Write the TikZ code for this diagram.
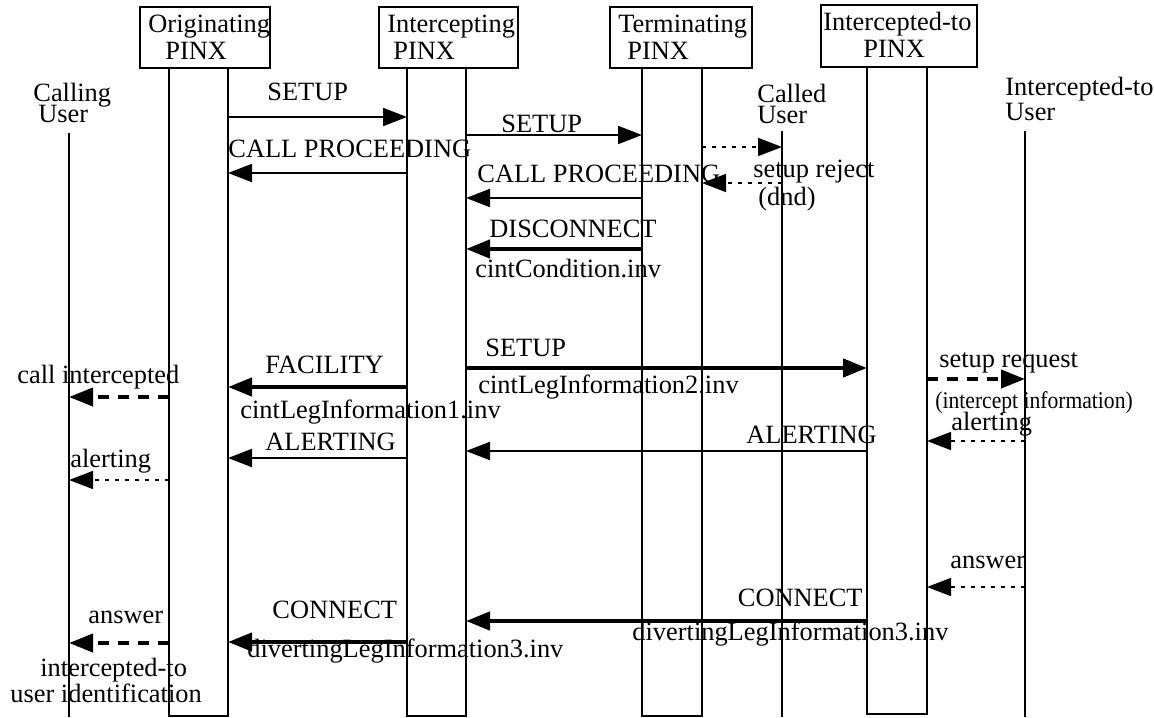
\documentclass[tikz,border=0pt]{standalone}
\usepackage{fontspec}
\setmainfont{Liberation Serif}
\usetikzlibrary{arrows.meta,fit}

\begin{document}
\begin{tikzpicture}[x=0.5pt,y=-0.5pt,
    font=\fontsize{13.2}{14}\selectfont,
    txt/.style={inner sep=0pt,anchor=base west},
    hdr/.style={draw,line width=1pt,inner sep=0pt},
    life/.style={line width=1pt},
    msg/.style={line width=1pt,-{Triangle[length=12pt,width=9pt]}},
    boldmsg/.style={line width=2.2pt,-{Triangle[length=12pt,width=9pt]}},
    dashmsg/.style={line width=2pt,dash pattern=on 5.5pt off 4.5pt,-{Triangle[length=12pt,width=9pt]}},
    dotmsg/.style={line width=0.8pt,dash pattern=on 2pt off 3pt,-{Triangle[length=12pt,width=9pt]}}]%
     \useasboundingbox (0,0) rectangle (1154,717);

     % header boxes
     \node[hdr,fit={(140,7) (270,68)}] (orig) {};
     \node[txt] (origA) at (148,33) {Originating};
     \node[txt] (origB) at (165,60) {PINX};
     \node[hdr,fit={(379,7) (518,68)}] (icpt) {};
     \node[txt] (icptA) at (387,33) {Intercepting};
     \node[txt] (icptB) at (393,60) {PINX};
     \node[hdr,fit={(610,7) (752,68)}] (term) {};
     \node[txt] (termA) at (618,33) {Terminating};
     \node[txt] (termB) at (627,60) {PINX};
     \node[hdr,fit={(821,5) (977,67)}] (ito) {};
     \node[txt] (itoA) at (823,31) {Intercepted-to};
     \node[txt] (itoB) at (863,58) {PINX};

     % users
     \node[txt] (cuA) at (33,101) {Calling};
     \node[txt] (cuB) at (38,122) {User};
     \node[txt] (duA) at (757,103) {Called};
     \node[txt] (duB) at (757,123) {User};
     \node[txt] (xuA) at (1005,96) {Intercepted-to};
     \node[txt] (xuB) at (1005,120) {User};

     % lifelines
     \coordinate (cu) at (69,133);
     \coordinate (oL) at (169,68);
     \coordinate (oR) at (228,68);
     \coordinate (iL) at (407,68);
     \coordinate (iR) at (466,68);
     \coordinate (tL) at (642,68);
     \coordinate (tR) at (702,68);
     \coordinate (du) at (782,131);
     \coordinate (xL) at (867,67);
     \coordinate (xR) at (927,67);
     \coordinate (xu) at (1025,131);

     \draw[life] (cu) -- (cu |- 0,717);
     \draw[life] (oL) -- (oL |- 0,716) -- (oR |- 0,716) -- (oR);
     \draw[life] (iL) -- (iL |- 0,716) -- (iR |- 0,716) -- (iR);
     \draw[life] (tL) -- (tL |- 0,716) -- (tR |- 0,716) -- (tR);
     \draw[life] (du) -- (du |- 0,717);
     \draw[life] (xL) -- (xL |- 0,714) -- (xR |- 0,714) -- (xR);
     \draw[life] (xu) -- (xu |- 0,717);

     % first attempt to the called user
     \draw[msg] (oR |- 0,117) -- (iL |- 0,117);
     \node[txt] (setupA) at (267,100) {SETUP};
     \draw[msg] (iL |- 0,173) -- (oR |- 0,173);
     \node[txt] (procA) at (228,157) {CALL PROCEEDING};
     \draw[msg] (iR |- 0,135) -- (tL |- 0,135);
     \node[txt] (setupB) at (501,132) {SETUP};
     \draw[dotmsg] (tR |- 0,147) -- (du |- 0,147);
     \draw[msg] (tL |- 0,198) -- (iR |- 0,198);
     \node[txt] (procB) at (477,182) {CALL PROCEEDING};
     \draw[dotmsg] (du |- 0,183) -- (tR |- 0,183);
     \node[txt] (rejA) at (753,177) {setup reject};
     \node[txt] (rejB) at (758,205) {(dnd)};
     \draw[boldmsg] (tL |- 0,249) -- (iR |- 0,249);
     \node[txt] (disc) at (489,237) {DISCONNECT};
     \node[txt] (discInv) at (475,277) {cintCondition.inv};

     % interception
     \draw[boldmsg] (iR |- 0,368) -- (xL |- 0,368);
     \node[txt] (setupC) at (485,356) {SETUP};
     \node[txt] (setupInv) at (478,393) {cintLegInformation2.inv};
     \draw[dashmsg] (xR |- 0,379) -- (xu |- 0,379);
     \node[txt] (reqA) at (939,367) {setup request};
     \node[txt] (reqB) at (935,408) {\fontsize{12}{13}\selectfont\scalebox{0.9}[1]{(intercept information)}};
     \draw[boldmsg] (iL |- 0,387) -- (oR |- 0,387);
     \node[txt] (fac) at (265,373) {FACILITY};
     \node[txt] (facInv) at (240,418) {cintLegInformation1.inv};
     \draw[dashmsg] (oL |- 0,397) -- (cu |- 0,397);
     \node[txt] (cint) at (17,383) {call intercepted};

     % alerting
     \draw[dotmsg] (xu |- 0,441) -- (xR |- 0,441);
     \node[txt] (alA) at (951,430) {alerting};
     \draw[msg] (xL |- 0,451) -- (iR |- 0,451);
     \node[txt] (alertB) at (746,443) {ALERTING};
     \draw[msg] (iL |- 0,458) -- (oR |- 0,458);
     \node[txt] (alertA) at (265,450) {ALERTING};
     \draw[dotmsg] (oL |- 0,480) -- (cu |- 0,480);
     \node[txt] (alB) at (70,467) {alerting};

     % answer
     \draw[dotmsg] (xu |- 0,587) -- (xR |- 0,587);
     \node[txt] (ansA) at (950,568) {answer};
     \draw[boldmsg] (xL |- 0,621) -- (iR |- 0,621);
     \node[txt,anchor=base east] (connB) at (863,606) {CONNECT};
     \node[txt] (connBInv) at (632,640) {divertingLegInformation3.inv};
     \draw[boldmsg] (iL |- 0,642) -- (oR |- 0,642);
     \node[txt] (connA) at (272,618) {CONNECT};
     \node[txt] (connAInv) at (247,657) {divertingLegInformation3.inv};
     \draw[dashmsg] (oL |- 0,643) -- (cu |- 0,643);
     \node[txt] (ansB) at (88,623) {answer};
     \node[txt] (idA) at (40,676) {intercepted-to};
     \node[txt] (idB) at (10,702) {user identification};
\end{tikzpicture}
\end{document}
